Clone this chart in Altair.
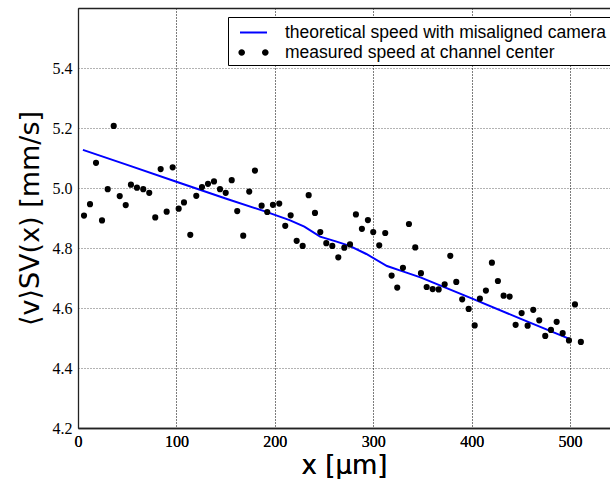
import altair as alt
import pandas as pd

T = "theoretical speed with misaligned camera"
M = "measured speed at channel center"

# measured speed at channel center
pos_um = [6.1, 12.2, 18.3, 24.4, 30.2, 36.3, 42.4, 48.5, 53.8, 59.9,
          66.3, 72.4, 78.5, 84.0, 90.1, 96.2, 102.3, 107.7, 114.1, 120.2,
          126.0, 132.1, 138.2, 144.3, 150.1, 156.2, 161.8, 167.9, 174.0, 179.8,
          186.6, 192.3, 198.1, 204.5, 210.6, 216.1, 222.2, 228.3, 234.4, 240.8,
          246.2, 252.3, 258.4, 264.5, 270.6, 276.4, 282.4, 288.5, 294.6, 300.0,
          306.1, 312.2, 318.7, 324.4, 330.2, 336.3, 342.7, 348.5, 354.3, 360.4,
          366.5, 372.6, 378.3, 384.4, 390.4, 397.0, 403.1, 408.4, 414.5, 420.6,
          426.7, 432.5, 438.6, 444.7, 450.8, 456.9, 462.6, 468.7, 474.8, 480.6,
          486.4, 492.5, 498.9, 505.0, 511.0]
speed_mm_s = [4.908, 4.946, 5.084, 4.892, 4.996, 5.207, 4.973, 4.943, 5.011, 5.001,
              4.996, 4.984, 4.902, 5.063, 4.921, 5.069, 4.931, 4.952, 4.844, 4.974,
              5.003, 5.014, 5.022, 4.996, 4.984, 5.026, 4.923, 4.841, 4.988, 5.058,
              4.941, 4.920, 4.944, 4.948, 4.874, 4.909, 4.824, 4.807, 4.976, 4.917,
              4.853, 4.816, 4.807, 4.769, 4.801, 4.812, 4.912, 4.864, 4.893, 4.853,
              4.809, 4.850, 4.708, 4.668, 4.734, 4.880, 4.802, 4.716, 4.670, 4.663,
              4.662, 4.679, 4.774, 4.687, 4.629, 4.597, 4.542, 4.631, 4.658, 4.751,
              4.690, 4.641, 4.638, 4.544, 4.583, 4.541, 4.594, 4.559, 4.507, 4.527,
              4.554, 4.516, 4.492, 4.612, 4.487]

# theoretical speed with misaligned camera
theory_pos_um = [5, 50, 100, 150, 190, 215, 230, 246, 262, 276, 293, 314, 330, 348, 400, 450, 500]
theory_speed = [5.127, 5.077, 5.021, 4.965, 4.922, 4.893, 4.871, 4.838, 4.822, 4.807,
                4.780, 4.740, 4.722, 4.702, 4.632, 4.564, 4.496]

x_ticks = [0, 100, 200, 300, 400, 500]
y_ticks = [4.2, 4.4, 4.6, 4.8, 5.0, 5.2, 5.4]
X_DOMAIN = [0, 540.6]
Y_DOMAIN = [4.2, 5.6]

pts = pd.DataFrame({"x": pos_um, "v": speed_mm_s, "series": M})
ln = pd.DataFrame({"x": theory_pos_um, "v": theory_speed, "series": T})

# legend glyphs (unit box -1..1): a short thick line, and two dots
LINE_PATH = "M-1.174,-0.087L1.174,-0.087L1.174,0.087L-1.174,0.087Z"
DOTS_PATH = ("M-1.313,0A0.287,0.287,0,1,0,-0.739,0A0.287,0.287,0,1,0,-1.313,0Z"
             "M0.739,0A0.287,0.287,0,1,0,1.313,0A0.287,0.287,0,1,0,0.739,0Z")

legend = alt.Legend(
    title=None, orient="none", legendX=150, legendY=9,
    fillColor="white", strokeColor="black",
    padding=4, symbolOffset=10, labelOffset=20, rowPadding=0,
    symbolSize=529, symbolOpacity=1, symbolStrokeWidth=0, labelLimit=600,
    labelFont="Liberation Sans", labelFontSize=17.5, labelColor="black",
)

color = alt.Color("series:N", scale=alt.Scale(domain=[T, M], range=["#0000ff", "#000000"]),
                  legend=legend)
shape = alt.Shape("series:N", scale=alt.Scale(domain=[T, M], range=[LINE_PATH, DOTS_PATH]),
                  legend=legend)

grid_style = dict(grid=True, gridColor="#000000", gridOpacity=0.6, gridDash=[1, 2], gridWidth=1)

y_enc = alt.Y("v:Q", scale=alt.Scale(domain=Y_DOMAIN, nice=False, zero=False),
              axis=alt.Axis(values=y_ticks, format=".1f", title="⟨v⟩SV(x) [mm/s]",
                            ticks=False, domain=True, domainColor="#222222", domainWidth=1.3,
                            labelPadding=6, titlePadding=8,
                            labelFont="Liberation Serif", labelFontSize=16, labelColor="black",
                            titleFont="DejaVu Sans", titleFontSize=27, titleFontWeight="normal",
                            titleColor="black", **grid_style))

x_scale = alt.Scale(domain=X_DOMAIN, nice=False, zero=False)
x_bottom = alt.X("x:Q", scale=x_scale,
                 axis=alt.Axis(values=x_ticks, format="d", title="x [μm]", ticks=False,
                               domain=True, domainColor="#222222", domainWidth=1.3,
                               labelFlush=False, labelPadding=5, titlePadding=3,
                               labelFont="Liberation Serif", labelFontSize=16, labelColor="black",
                               titleFont="DejaVu Sans", titleFontSize=26, titleFontWeight="normal",
                               titleColor="black", **grid_style))

# legend-only layer (filtered to no rows): supplies the legend glyph shapes
legend_layer = alt.Chart(pts).transform_filter("false").mark_point(
    filled=True, opacity=1, strokeWidth=0
).encode(x=x_bottom, y=y_enc, color=color, shape=shape)

line = alt.Chart(ln).mark_line(strokeWidth=2).encode(
    x=alt.X("x:Q", scale=x_scale,
            axis=alt.Axis(orient="top", labels=False, ticks=False, grid=False, title=None,
                          domain=True, domainColor="#222222", domainWidth=1.3)),
    y=y_enc,
    color=color,
)

points = alt.Chart(pts).mark_circle(size=38, opacity=1).encode(
    x=x_bottom, y=y_enc, color=color,
)

chart = alt.layer(legend_layer, line, points).resolve_axis(x="independent").properties(
    width=532, height=420,
    autosize="none",
    padding={"left": 78, "top": 8, "right": 0, "bottom": 51},
).configure_view(stroke=None).configure(background="white")

chart.save("out.html", embed_options={"renderer": "svg", "actions": False})
